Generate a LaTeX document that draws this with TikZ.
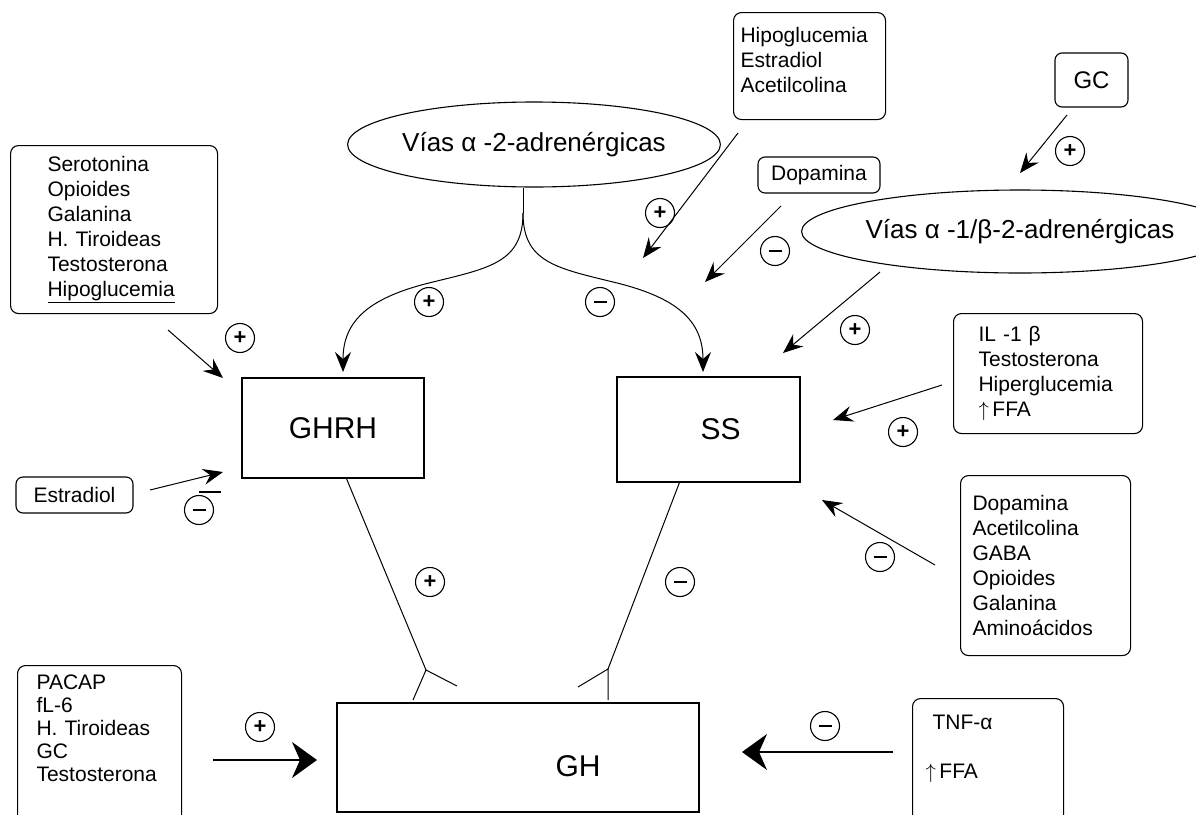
\documentclass[tikz,border=0pt]{standalone}
\usepackage{fontspec}
\setmainfont{Liberation Sans}
\usetikzlibrary{arrows.meta,shapes.geometric}
\begin{document}
\begin{tikzpicture}[x=1pt,y=-1pt,
  lbox/.style={draw,rounded corners=8pt,line width=1.1pt,align=left,font=\fontsize{21}{25}\selectfont,anchor=north west,inner ysep=0pt},
  sbox/.style={draw,rounded corners=7pt,line width=1.1pt,font=\fontsize{21}{25}\selectfont,inner sep=0pt},
  rbox/.style={draw,line width=1.1pt,inner sep=0pt,font=\fontsize{30}{30}\selectfont},
  ell/.style={draw,ellipse,line width=1.1pt,inner sep=0pt,font=\fontsize{26}{26}\selectfont},
  sgn/.style={draw,circle,line width=1.1pt,minimum size=29pt,inner sep=0pt,font=\fontsize{22}{22}\selectfont\bfseries},
  arr/.style={line width=1pt,-{Stealth[length=20pt,width=16pt,inset=7pt]}},
  barr/.style={line width=1.8pt,-{Stealth[length=25pt,width=36pt,inset=8pt]}},
  ln/.style={line width=1pt}
]
\clip (0,0) rectangle (1196,814);

% boxes
\node[lbox,inner xsep=37pt,text width=133pt,minimum height=168pt] (sero) at (10,145)
  {Serotonina\\Opioides\\Galanina\\H. Tiroideas\\Testosterona\\\underline{Hipoglucemia}};
\node[lbox,inner xsep=7pt,text width=138pt,minimum height=107pt] (hipo) at (733,12)
  {Hipoglucemia\\Estradiol\\Acetilcolina\\[-12pt]\mbox{}};
\node[sbox,minimum width=73pt,minimum height=54pt,font=\fontsize{24}{24}\selectfont] (gc) at (1091.5,80) {GC};
\node[sbox,minimum width=122pt,minimum height=36pt] (dopa) at (819,175) {Dopamina};
\node[sbox,minimum width=117pt,minimum height=36pt] (estr) at (74.5,495) {Estradiol};
\node[ell,minimum width=304pt,minimum height=85pt] (e1) at (534,144.5) {Vías α -2-adrenérgicas};
\node[ell,minimum width=346pt,minimum height=83pt] (e2) at (1020,231.5) {Vías α -1/β-2-adrenérgicas};
\node[lbox,inner xsep=25pt,text width=139pt,minimum height=120pt] (il) at (953,313)
  {IL -1 β\\Testosterona\\Hiperglucemia\\$\uparrow$\,FFA};
\node[lbox,inner xsep=12pt,text width=146pt,minimum height=180pt] (dl) at (960,475)
  {Dopamina\\Acetilcolina\\GABA\\Opioides\\Galanina\\Aminoácidos};
\node[rbox,minimum width=182pt,minimum height=100pt] (ghrh) at (333,428) {GHRH};
\node[rbox,minimum width=183pt,minimum height=105pt] (ss) at (708.5,429.5) {\hspace*{24pt}SS};
\node[rbox,minimum width=362pt,minimum height=109pt] (gh) at (518,757.5) {};
\node[font=\fontsize{30}{30}\selectfont] (ghtext) at (578,766) {GH};
\node[lbox,inner xsep=19pt,inner ysep=9pt,text width=126pt,font=\fontsize{21}{23}\selectfont] (pacap) at (17,665)
  {PACAP\\fL-6\\H. Tiroideas\\GC\\Testosterona\\[40pt]\mbox{}};
\node[lbox,inner xsep=20pt,inner ysep=16pt,text width=111pt] (tnf) at (912,698)
  {TNF-α\\[24pt]\hspace*{-7pt}$\uparrow$\,FFA\\[40pt]\mbox{}};

% signs
\node[sgn] (p1) at (240,338) {+};
\node[sgn] (m1) at (199,510) {\rule{13pt}{1.1pt}};
\node[sgn] (p2) at (660,213) {+};
\node[sgn] (m2) at (775,251) {\rule{13pt}{1.1pt}};
\node[sgn] (p3) at (1070,151) {+};
\node[sgn] (p4) at (429,302) {+};
\node[sgn] (m4) at (600,302) {\rule{13pt}{1.1pt}};
\node[sgn] (p5) at (855,330) {+};
\node[sgn] (p6) at (903,432) {+};
\node[sgn] (m6) at (880,557) {\rule{13pt}{1.1pt}};
\node[sgn] (p7) at (430,582) {+};
\node[sgn] (m7) at (680,582) {\rule{13pt}{1.1pt}};
\node[sgn] (p8) at (260,727) {+};
\node[sgn] (m8) at (825,726) {\rule{13pt}{1.1pt}};

% connector end points
\coordinate (a1s) at (168,330); \coordinate (a1e) at (223,378);
\coordinate (a2s) at (150,490); \coordinate (a2e) at (223,472);
\coordinate (bar1) at (199,492); \coordinate (bar2) at (221,492);
\coordinate (a3s) at (738,133); \coordinate (a3e) at (643,258);
\coordinate (a4s) at (781,206); \coordinate (a4e) at (705,282);
\coordinate (a5s) at (1067,115); \coordinate (a5e) at (1020,173);
\coordinate (a6s) at (880,272); \coordinate (a6e) at (783,353);
\coordinate (a7s) at (942,385); \coordinate (a7e) at (833,420);
\coordinate (a8s) at (935,565); \coordinate (a8e) at (822,500);
\coordinate (a9s) at (213,760); \coordinate (a9e) at (317,760);
\coordinate (a10s) at (893,752); \coordinate (a10e) at (742,752);
\coordinate (stem) at (523,213);
\coordinate (tipL) at (343,372); \coordinate (tipR) at (703,372);
\coordinate (f1) at (426,670); \coordinate (f1a) at (413,700); \coordinate (f1b) at (457,686);
\coordinate (f2) at (608,669); \coordinate (f2a) at (608,700); \coordinate (f2b) at (578,687);

% connectors
\draw[arr] (a1s) -- (a1e);
\draw[arr] (a2s) -- (a2e);
\draw[line width=2.5pt] (bar1) -- (bar2);
\draw[arr] (a3s) -- (a3e);
\draw[arr] (a4s) -- (a4e);
\draw[arr] (a5s) -- (a5e);
\draw[arr] (a6s) -- (a6e);
\draw[arr] (a7s) -- (a7e);
\draw[arr] (a8s) -- (a8e);
\draw[barr] (a9s) -- (a9e);
\draw[barr] (a10s) -- (a10e);

\draw[ln] (e1.south -| stem) -- (stem);
\draw[arr] (stem) .. controls (523,262) and (490,268) .. (433,282)
  .. controls (370,297) and (343,320) .. (tipL);
\draw[arr] (stem) .. controls (523,262) and (556,268) .. (613,282)
  .. controls (676,297) and (703,320) .. (tipR);

\draw[ln] (ghrh.south west) ++(105,0) -- (f1);
\draw[ln] (f1a) -- (f1) -- (f1b);
\draw[ln] (ss.south west) ++(63,0) -- (f2);
\draw[ln] (f2a) -- (f2) -- (f2b);
\end{tikzpicture}
\end{document}
